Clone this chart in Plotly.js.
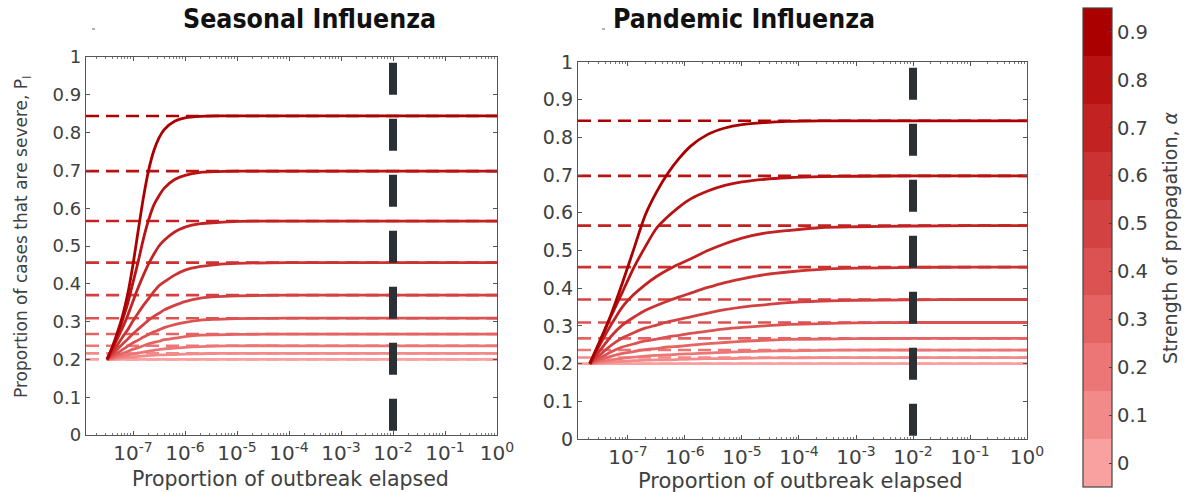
<!DOCTYPE html>
<html>
<head>
<meta charset="utf-8">
<script src="https://cdn.plot.ly/plotly-3.0.1.min.js"></script>
<style>html,body{margin:0;padding:0;background:#fff;}#chart{width:1190px;height:492px;}</style>
</head>
<body>
<div id="chart"></div>
<script>
// ---- data ----
const alphas = [0, 0.1, 0.2, 0.3, 0.4, 0.5, 0.6, 0.7, 0.8, 0.9];
const colors = ['#f9a0a0', '#f38a8a', '#ec7676', '#e46464', '#dc5252', '#d34242', '#cb3232', '#c22222', '#b81212', '#aa0000'];
const asymptotes = [0.200, 0.216, 0.236, 0.267, 0.309, 0.370, 0.456, 0.566, 0.698, 0.844];

const seasonalExp = [-7.5, -7.4, -7.3, -7.2, -7.1, -7.0, -6.9, -6.8, -6.7, -6.6, -6.5, -6.4, -6.2, -6.0, -5.7, -5.4, -5.0, -4.0, -2.0, 0];
const seasonal = [
  [0.2,0.2,0.2,0.2,0.2,0.2,0.2,0.2,0.2,0.2,0.2,0.2,0.2,0.2,0.2,0.2,0.2,0.2,0.2,0.2],
  [0.2,0.201,0.203,0.204,0.205,0.206,0.208,0.209,0.210,0.211,0.212,0.212,0.213,0.214,0.215,0.216,0.216,0.216,0.216,0.216],
  [0.2,0.203,0.206,0.209,0.212,0.214,0.217,0.219,0.222,0.224,0.226,0.228,0.230,0.232,0.234,0.235,0.236,0.236,0.236,0.236],
  [0.2,0.205,0.211,0.216,0.221,0.227,0.231,0.236,0.241,0.245,0.248,0.252,0.256,0.260,0.264,0.265,0.266,0.267,0.267,0.267],
  [0.2,0.209,0.217,0.226,0.235,0.244,0.251,0.259,0.266,0.273,0.278,0.284,0.292,0.298,0.304,0.306,0.308,0.309,0.309,0.309],
  [0.2,0.214,0.227,0.241,0.254,0.268,0.280,0.292,0.304,0.314,0.322,0.331,0.343,0.353,0.362,0.366,0.368,0.370,0.370,0.370],
  [0.2,0.218,0.238,0.259,0.279,0.302,0.323,0.343,0.361,0.379,0.395,0.405,0.423,0.436,0.446,0.451,0.454,0.456,0.456,0.456],
  [0.2,0.226,0.255,0.284,0.317,0.354,0.390,0.423,0.453,0.478,0.500,0.515,0.537,0.550,0.559,0.562,0.565,0.566,0.566,0.566],
  [0.2,0.230,0.265,0.305,0.349,0.404,0.459,0.519,0.569,0.608,0.633,0.653,0.676,0.687,0.695,0.697,0.698,0.698,0.698,0.698],
  [0.2,0.232,0.271,0.316,0.374,0.451,0.541,0.628,0.700,0.752,0.786,0.808,0.830,0.839,0.843,0.844,0.844,0.844,0.844,0.844]
];

const pandemicExp = [-7.67, -7.5, -7.3, -7.1, -6.9, -6.7, -6.5, -6.3, -6.1, -5.9, -5.6, -5.3, -5.0, -4.6, -4.2, -3.6, -3.0, -2.0, -1.0, 0];
const pandemic = [
  [0.2,0.2,0.2,0.2,0.2,0.2,0.2,0.2,0.2,0.2,0.2,0.2,0.2,0.2,0.2,0.2,0.2,0.2,0.2,0.2],
  [0.2,0.202,0.204,0.206,0.208,0.209,0.210,0.210,0.211,0.212,0.213,0.213,0.214,0.215,0.215,0.216,0.216,0.216,0.216,0.216],
  [0.2,0.205,0.210,0.214,0.217,0.220,0.222,0.223,0.225,0.226,0.228,0.230,0.232,0.233,0.234,0.235,0.236,0.236,0.236,0.236],
  [0.2,0.209,0.219,0.227,0.232,0.237,0.240,0.244,0.246,0.249,0.253,0.256,0.259,0.262,0.264,0.265,0.266,0.267,0.267,0.267],
  [0.2,0.214,0.231,0.244,0.252,0.260,0.265,0.271,0.275,0.280,0.286,0.292,0.296,0.300,0.304,0.306,0.308,0.309,0.309,0.309],
  [0.2,0.222,0.248,0.268,0.282,0.294,0.302,0.311,0.317,0.324,0.334,0.343,0.350,0.356,0.362,0.366,0.368,0.369,0.370,0.370],
  [0.2,0.233,0.272,0.302,0.323,0.341,0.354,0.366,0.377,0.387,0.402,0.415,0.425,0.436,0.443,0.450,0.453,0.455,0.456,0.456],
  [0.2,0.248,0.302,0.350,0.383,0.409,0.431,0.449,0.464,0.478,0.500,0.518,0.533,0.546,0.553,0.561,0.563,0.565,0.566,0.566],
  [0.2,0.255,0.325,0.389,0.454,0.509,0.559,0.590,0.616,0.637,0.658,0.673,0.682,0.689,0.693,0.696,0.697,0.698,0.698,0.698],
  [0.2,0.258,0.329,0.413,0.503,0.593,0.655,0.705,0.745,0.777,0.808,0.825,0.834,0.8395,0.8425,0.8437,0.844,0.844,0.844,0.844]
];

const markerX = 0.01;
const xTickVals = [1e-7, 1e-6, 1e-5, 1e-4, 1e-3, 1e-2, 1e-1, 1];
const xTickText = ['10<sup>-7</sup>','10<sup>-6</sup>','10<sup>-5</sup>','10<sup>-4</sup>','10<sup>-3</sup>','10<sup>-2</sup>','10<sup>-1</sup>','10<sup>0</sup>'];
const yTickVals = [0,0.1,0.2,0.3,0.4,0.5,0.6,0.7,0.8,0.9,1];
const yTickText = ['0','0.1','0.2','0.3','0.4','0.5','0.6','0.7','0.8','0.9','1'];

// ---- build ----
const W = 1190, H = 492;
const px = v => v / W, py = v => 1 - v / H;
const FONT = 'DejaVu Sans, sans-serif';
const grey = '#404040';

const traces = [];
function panel(exps, curves, xa, ya, xmin) {
  const xs = exps.map(e => Math.pow(10, e));
  asymptotes.forEach((a, i) => {
    traces.push({type:'scatter', mode:'lines', x:[xmin, 1], y:[a, a], xaxis:xa, yaxis:ya,
      line:{color:colors[i], width:2.6, dash:'13px,7px'}, hoverinfo:'skip', showlegend:false});
  });
  curves.forEach((c, i) => {
    traces.push({type:'scatter', mode:'lines', x:xs, y:c, xaxis:xa, yaxis:ya,
      line:{color:colors[i], width:2.8, shape:'spline', smoothing:0.7}, showlegend:false});
  });
  traces.push({type:'scatter', mode:'lines', x:[markerX, markerX], y:[0.985, 0], xaxis:xa, yaxis:ya,
    line:{color:'#2a3033', width:8, dash:'32px,24px'}, hoverinfo:'skip', showlegend:false});
}
panel(seasonalExp, seasonal, 'x', 'y', Math.pow(10, -7.904));
panel(pandemicExp, pandemic, 'x2', 'y2', Math.pow(10, -7.877));

// colorbar
const cmin = -0.05, cmax = 0.95;
const cs = [];
colors.forEach((c, i) => { cs.push([i / colors.length, c]); cs.push([(i + 1) / colors.length, c]); });
traces.push({type:'scatter', mode:'markers', x:[null], y:[null], xaxis:'x', yaxis:'y', showlegend:false, hoverinfo:'skip',
  marker:{color:[0], colorscale:cs, cmin:cmin, cmax:cmax, showscale:true,
    colorbar:{x:px(1083), xanchor:'left', xref:'paper', y:py(247.5), yanchor:'middle', len:479/H, lenmode:'fraction',
      thickness:29, thicknessmode:'pixels', outlinewidth:1.2, outlinecolor:'#444',
      tickvals:alphas, ticktext:alphas.map(String), ticks:'inside', ticklen:3, tickcolor:'#444',
      tickfont:{family:FONT, size:19.5, color:grey}, ypad:0, xpad:0,
      title:{text:''}}}});

function xaxis(dom, range, anchor, fs) {
  return {type:'log', domain:dom, range:range, anchor:anchor, tickmode:'array', tickvals:xTickVals, ticktext:xTickText,
    ticks:'inside', ticklen:4, tickcolor:'#555', showline:true, linecolor:'#555', linewidth:1.2, mirror:'ticks',
    showgrid:false, zeroline:false, tickfont:{family:FONT, size:fs, color:grey},
    minor:{ticks:'inside', ticklen:2, tickcolor:'#777', dtick:'D1', showgrid:false}};
}
function yaxis(dom, anchor, fs) {
  return {domain:dom, range:[0,1], anchor:anchor, tickmode:'array', tickvals:yTickVals, ticktext:yTickText,
    ticks:'inside', ticklen:4, tickcolor:'#555', showline:true, linecolor:'#555', linewidth:1.2, mirror:'ticks',
    showgrid:false, zeroline:false, tickfont:{family:FONT, size:fs, color:grey}};
}

const layout = {
  width:W, height:H, margin:{l:0, r:0, t:0, b:0}, paper_bgcolor:'#fff', plot_bgcolor:'#fff', showlegend:false,
  xaxis: xaxis([px(86), px(497)], [-7.904, 0], 'y', 20),
  yaxis: yaxis([py(435), py(57)], 'x', 18),
  xaxis2: xaxis([px(578), px(1027)], [-7.877, 0], 'y2', 20),
  yaxis2: yaxis([py(439), py(62)], 'x2', 19),
  annotations: [
    {text:'Seasonal Influenza', x:px(309), y:py(19), xref:'paper', yref:'paper', showarrow:false, xanchor:'center', yanchor:'middle',
      font:{family:'DejaVu Sans Condensed, DejaVu Sans, sans-serif', size:26.5, color:'#111', weight:'bold'}},
    {text:'Pandemic Influenza', x:px(744), y:py(19), xref:'paper', yref:'paper', showarrow:false, xanchor:'center', yanchor:'middle',
      font:{family:'DejaVu Sans Condensed, DejaVu Sans, sans-serif', size:26.5, color:'#111', weight:'bold'}},
    {text:'Proportion of outbreak elapsed', x:px(290), y:py(479), xref:'paper', yref:'paper', showarrow:false, xanchor:'center', yanchor:'middle',
      font:{family:FONT, size:20.5, color:grey}},
    {text:'Proportion of outbreak elapsed', x:px(800), y:py(481), xref:'paper', yref:'paper', showarrow:false, xanchor:'center', yanchor:'middle',
      font:{family:FONT, size:21, color:grey}},
    {text:'Proportion of cases that are severe, P<sub>I</sub>', x:px(22), y:py(237), xref:'paper', yref:'paper', showarrow:false, textangle:-90,
      xanchor:'center', yanchor:'middle', font:{family:FONT, size:17, color:grey}},
    {text:'Strength of propagation, <i>α</i>', x:px(1170), y:py(238), xref:'paper', yref:'paper', showarrow:false, textangle:-90,
      xanchor:'center', yanchor:'middle', font:{family:FONT, size:19, color:grey}}
  ],
  shapes: [
    {type:'line', xref:'paper', yref:'paper', x0:px(92), x1:px(95), y0:py(29), y1:py(29), line:{color:'#999', width:1.5}},
    {type:'line', xref:'paper', yref:'paper', x0:px(602), x1:px(605), y0:py(29), y1:py(29), line:{color:'#999', width:1.5}}
  ]
};

Plotly.newPlot('chart', traces, layout, {displayModeBar:false, staticPlot:true});
</script>
</body>
</html>
